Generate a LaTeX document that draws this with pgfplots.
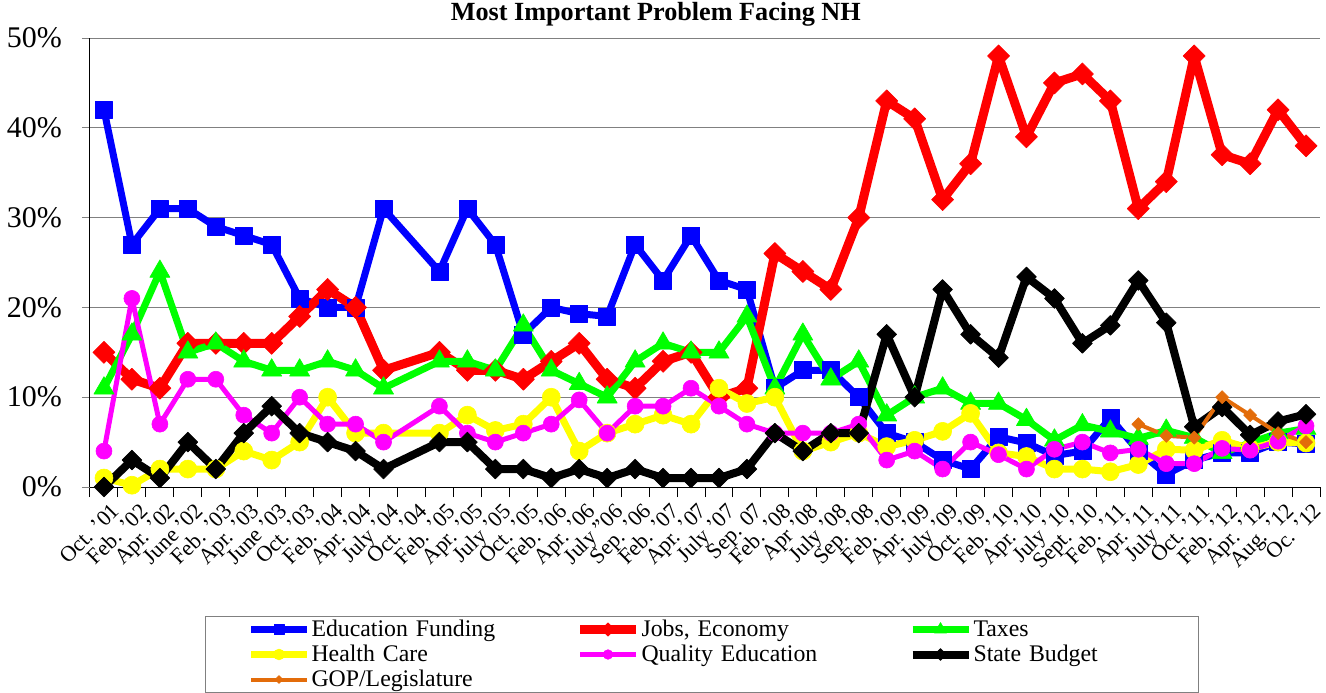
\documentclass[border=0pt]{standalone}
\usepackage{fontspec}
\setmainfont{Liberation Serif}
\usepackage{pgfplots}
\pgfplotsset{compat=1.18}
\definecolor{cEF}{RGB}{0,0,255}
\definecolor{cJE}{RGB}{255,0,0}
\definecolor{cTX}{RGB}{0,255,0}
\definecolor{cHC}{RGB}{255,255,0}
\definecolor{cQE}{RGB}{255,0,255}
\definecolor{cSB}{RGB}{0,0,0}
\definecolor{cGOP}{RGB}{227,108,10}
\definecolor{gridgray}{RGB}{128,128,128}
\begin{document}
\begin{tikzpicture}
\begin{axis}[
  at={(0pt,0pt)}, anchor=south west,
  scale only axis, width=615pt, height=224.5pt,
  xmin=-0.5, xmax=43.5, ymin=0, ymax=50,
  clip=false,
  axis x line*=bottom, axis y line*=left,
  axis line style={-, black, line width=0.5pt},
  tick align=outside,
  major tick length=4pt, minor tick length=5pt,
  every major x tick/.append style={draw=none},
  every minor x tick/.append style={black, line width=0.5pt},
  every major y tick/.append style={gridgray, line width=0.5pt},
  xtick={0,...,43},
  minor xtick={-0.5,0.5,...,43.5},
  xticklabels={{Oct. '01},{Feb. '02},{Apr. '02},{June '02},{Feb. '03},{Apr. '03},{June '03},{Oct. '03},{Feb. '04},{Apr. '04},{July '04},{Oct. '04},{Feb. '05},{Apr. '05},{July '05},{Oct. '05},{Feb. '06},{Apr. '06},{July ''06},{Sep. '06},{Feb. '07},{Apr. '07},{July '07},{Sep. 07},{Feb. '08},{Apr '08},{July '08},{Sep. '08},{Feb. '09},{Apr. '09},{July '09},{Oct. '09},{Feb. '10},{Apr. '10},{July '10},{Sept. '10},{Feb. '11},{Apr. '11},{July '11},{Oct. '11},{Feb. '12},{Apr. '12},{Aug. '12},{Oc. '12}},
  xticklabel style={rotate=45, anchor=north east, inner sep=1pt, xshift=1pt, yshift=-3.5pt, font=\fontsize{11}{12}\selectfont},
  ytick={0,10,...,50},
  yticklabel={\pgfmathprintnumber{\tick}\%},
  yticklabel style={font=\fontsize{15}{16}\selectfont, xshift=-6.5pt},
  /pgf/number format/assume math mode=true,
  ymajorgrids,
  grid style={gridgray, line width=0.5pt},
  title={Most Important Problem Facing NH},
  title style={at={(0.46,1)}, anchor=base, yshift=3pt, font=\bfseries\fontsize{13.1}{15}\selectfont},
  legend columns=3,
  legend cell align=left,
  legend image code/.code={\draw[mark repeat=2,mark phase=2,#1,every mark/.append style={scale=0.6}] plot coordinates {(0pt,0pt) (14pt,0pt) (28pt,0pt)};},
  legend style={at={(0.0935,-0.2873)}, anchor=north west, draw=gridgray, line width=0.5pt,
    font=\fontsize{11.9}{12.5}\selectfont,
    inner xsep=21pt, inner ysep=1.5pt, row sep=2.5pt,
    nodes={inner ysep=0pt, inner xsep=0.5pt, text height=8.5pt, text depth=1.5pt},
    /tikz/column 2/.style={text width=131.5pt},
    /tikz/column 4/.style={text width=133pt},
    /tikz/column 6/.style={text width=91pt}},
]
\addplot[cEF, line width=3.5pt, line join=round, mark=square*, mark size=4.25pt, mark options={solid, line width=0.3pt, fill=cEF, draw=cEF}] coordinates {
(0,42)(1,27)(2,31)(3,31)(4,29)(5,28)(6,27)(7,21)(8,20)(9,20)(10,31)(12,24)(13,31)(14,27)(15,17)(16,20)(17,19.3)(18,19)(19,27)(20,23)(21,28)(22,23)(23,22)(24,11)(25,13)(26,13)(27,10)(28,6)(29,5)(30,3)(31,2)(32,5.6)(33,4.9)(34,3.5)(35,4)(36,7.7)(37,4)(38,1.4)(39,3)(40,3.8)(41,3.8)(42,5)(43,4.8)};
\addlegendentry{Education Funding}
\addplot[cJE, line width=4.5pt, line join=round, mark=square*, mark size=3.9pt, mark options={solid, rotate=45, line width=0.3pt, fill=cJE, draw=cJE}] coordinates {
(0,15)(1,12)(2,11)(3,16)(4,16)(5,16)(6,16)(7,19)(8,22)(9,20)(10,13)(12,15)(13,13)(14,13)(15,12)(16,14)(17,16)(18,12)(19,11)(20,14)(21,15)(22,10)(23,11)(24,26)(25,24)(26,22)(27,30)(28,43)(29,41)(30,32)(31,36)(32,48)(33,39)(34,45)(35,46)(36,43)(37,31)(38,34)(39,48)(40,37)(41,36)(42,42)(43,38)};
\addlegendentry{Jobs, Economy}
\addplot[cTX, line width=3.5pt, line join=round, mark=triangle*, mark size=5.8pt, mark options={solid, line width=0.3pt, fill=cTX, draw=cTX}] coordinates {
(0,11)(1,17)(2,24)(3,15)(4,16)(5,14)(6,13)(7,13)(8,14)(9,13)(10,11)(12,14)(13,14)(14,13)(15,18)(16,13)(17,11.5)(18,10)(19,14)(20,16)(21,15)(22,15)(23,19)(24,11)(25,17)(26,12)(27,14)(28,8)(29,10)(30,11)(31,9.3)(32,9.3)(33,7.5)(34,5.2)(35,6.9)(36,6.2)(37,5.4)(38,6.3)(39,5.5)(40,3.8)(41,4.9)(42,6)(43,6.5)};
\addlegendentry{Taxes}
\addplot[cHC, line width=3.5pt, line join=round, mark=*, mark size=4.5pt, mark options={solid, line width=0.3pt, fill=cHC, draw=cHC}] coordinates {
(0,1)(1,0.2)(2,2)(3,2)(4,2)(5,4)(6,3)(7,5)(8,10)(9,6)(10,6)(12,6)(13,8)(14,6.3)(15,7)(16,10)(17,4)(18,6)(19,7)(20,8)(21,7)(22,11)(23,9.3)(24,10)(25,4)(26,5)(27,6)(28,4.5)(29,5.2)(30,6.2)(31,8.2)(32,3.8)(33,3.4)(34,2)(35,2)(36,1.7)(37,2.5)(38,4.2)(39,4.1)(40,5.2)(41,4.3)(42,5)(43,4.9)};
\addlegendentry{Health Care}
\addplot[cQE, line width=2.5pt, line join=round, mark=*, mark size=4pt, mark options={solid, line width=0.3pt, fill=cQE, draw=cQE}] coordinates {
(0,4)(1,21)(2,7)(3,12)(4,12)(5,8)(6,6)(7,10)(8,7)(9,7)(10,5)(12,9)(13,6)(14,5)(15,6)(16,7)(17,9.7)(18,6)(19,9)(20,9)(21,11)(22,9)(23,7)(24,6)(25,6)(26,6)(27,7)(28,3)(29,4)(30,2)(31,5)(32,3.6)(33,2)(34,4.2)(35,5)(36,3.8)(37,4.2)(38,2.6)(39,2.6)(40,4.3)(41,4.1)(42,5.1)(43,6.8)};
\addlegendentry{Quality Education}
\addplot[cSB, line width=4pt, line join=round, mark=square*, mark size=3.5pt, mark options={solid, rotate=45, line width=0.3pt, fill=cSB, draw=cSB}] coordinates {
(0,0)(1,3)(2,1)(3,5)(4,2)(5,6)(6,9)(7,6)(8,5)(9,4)(10,2)(12,5)(13,5)(14,2)(15,2)(16,1)(17,2)(18,1)(19,2)(20,1)(21,1)(22,1)(23,2)(24,6)(25,4)(26,6)(27,6)(28,17)(29,10)(30,22)(31,17)(32,14.4)(33,23.4)(34,21)(35,16)(36,18)(37,23)(38,18.3)(39,6.7)(40,8.9)(41,5.8)(42,7.3)(43,8.1)};
\addlegendentry{State Budget}
\addplot[cGOP, line width=2pt, line join=round, mark=square*, mark size=2.3pt, mark options={solid, rotate=45, line width=0.3pt, fill=cGOP, draw=cGOP}] coordinates {
(37,7)(38,5.7)(39,5.5)(40,10)(41,8)(42,6)(43,5)};
\addlegendentry{GOP/Legislature}
\end{axis}
\pgfresetboundingbox
\path (-45pt,-102.5pt) rectangle (618pt,243.5pt);
\end{tikzpicture}
\end{document}
